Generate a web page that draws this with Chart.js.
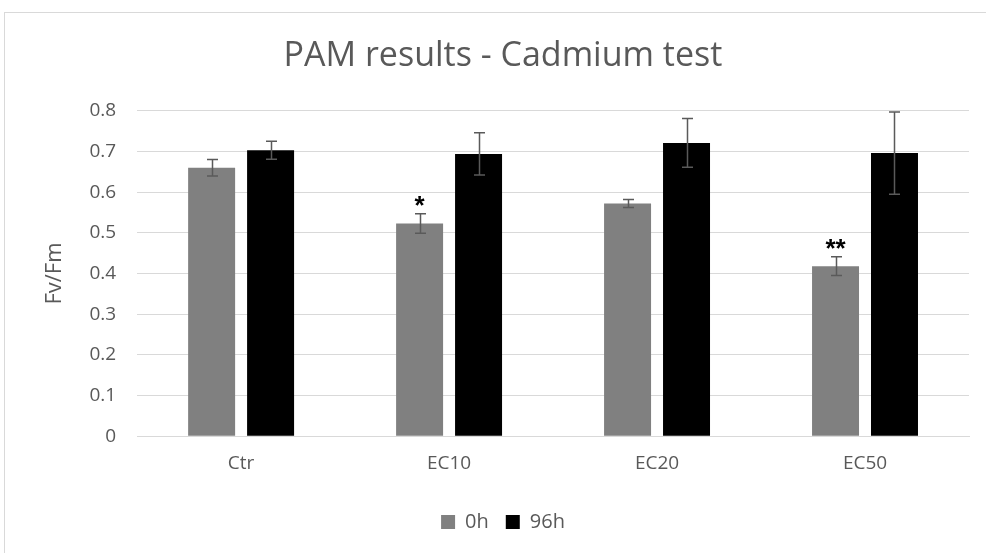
<!DOCTYPE html>
<html>
<head>
<meta charset="utf-8">
<script src="https://cdn.jsdelivr.net/npm/chart.js@4"></script>
<style>
  html, body { margin: 0; padding: 0; background: #fff; overflow: hidden; }
  #wrap { position: relative; width: 986px; height: 553px; }
  #frame { position: absolute; left: 4px; top: 12px; width: 1000px; height: 600px;
           border: 1px solid #d9d9d9; pointer-events: none; }
</style>
</head>
<body>
<div id="wrap">
  <canvas id="chart" width="986" height="553"></canvas>
  <div id="frame"></div>
</div>
<script>
// data
const categories = ['Ctr', 'EC10', 'EC20', 'EC50'];
const values0h = [0.660, 0.523, 0.572, 0.418];
const errors0h = [0.020, 0.024, 0.010, 0.023];
const values96h = [0.703, 0.694, 0.721, 0.696];
const errors96h = [0.022, 0.052, 0.060, 0.101];
const stars0h = ['', '*', '', '**'];
const yTicks = [0, 0.1, 0.2, 0.3, 0.4, 0.5, 0.6, 0.7, 0.8];

const textColor = '#595959';

// draws the error whiskers and significance stars on top of the bars
const errorBars = {
  id: 'errorBars',
  afterDatasetsDraw(chart) {
    const ctx = chart.ctx;
    const y = chart.scales.y;
    ctx.save();
    chart.data.datasets.forEach((ds, i) => {
      const meta = chart.getDatasetMeta(i);
      meta.data.forEach((bar, j) => {
        const v = ds.data[j];
        const e = ds.errors[j];
        const top = y.getPixelForValue(v + e);
        const bot = y.getPixelForValue(v - e);
        const x = Math.round(bar.x) + 0.5;
        ctx.strokeStyle = '#5a5a5a';
        ctx.lineWidth = 1.5;
        ctx.beginPath();
        ctx.moveTo(x, top); ctx.lineTo(x, bot);
        ctx.moveTo(x - 5.5, top); ctx.lineTo(x + 5.5, top);
        ctx.moveTo(x - 5.5, bot); ctx.lineTo(x + 5.5, bot);
        ctx.stroke();
        if (ds.stars && ds.stars[j]) {
          ctx.fillStyle = '#000';
          ctx.font = 'bold 26px "Liberation Sans"';
          ctx.textAlign = 'center';
          ctx.textBaseline = 'alphabetic';
          ctx.fillText(ds.stars[j], bar.x, top);
        }
      });
    });
    ctx.restore();
  }
};

new Chart(document.getElementById('chart'), {
  type: 'bar',
  data: {
    labels: categories,
    datasets: [
      { label: '0h', data: values0h, errors: errors0h, stars: stars0h,
        backgroundColor: '#808080', borderWidth: 0 },
      { label: '96h', data: values96h, errors: errors96h,
        backgroundColor: '#000000', borderWidth: 0 }
    ]
  },
  options: {
    responsive: false,
    animation: false,
    datasets: { bar: { categoryPercentage: 0.567, barPercentage: 0.797 } },
    layout: { padding: { left: 37, right: 17, top: 0, bottom: 11 } },
    scales: {
      x: {
        grid: { display: false, drawTicks: false },
        border: { display: true, color: '#d9d9d9', width: 1 },
        ticks: { color: textColor, padding: 16, font: { family: 'Open Sans', size: 19 } },
        afterFit(scale) { scale.height += 4; }
      },
      y: {
        min: 0, max: 0.8,
        afterBuildTicks(scale) { scale.ticks = yTicks.map(v => ({ value: v })); },
        grid: { color: '#d9d9d9', drawTicks: false },
        border: { display: false },
        ticks: { color: textColor, padding: 21, font: { family: 'Open Sans', size: 19 },
                 callback: v => String(v) },
        title: { display: true, text: 'Fv/Fm', color: textColor,
                 font: { family: 'Open Sans', size: 22 }, padding: { top: 5, bottom: 0 } }
      }
    },
    plugins: {
      title: { display: true, text: 'PAM results - Cadmium test', color: textColor,
               font: { family: 'Open Sans', size: 34, weight: 'normal' },
               padding: { top: 36, bottom: 34 } },
      legend: {
        position: 'bottom',
        labels: { color: textColor, boxWidth: 14, boxHeight: 14, padding: 17,
                  font: { family: 'Open Sans', size: 20 } }
      },
      tooltip: { enabled: false }
    }
  },
  plugins: [errorBars]
});
</script>
</body>
</html>
